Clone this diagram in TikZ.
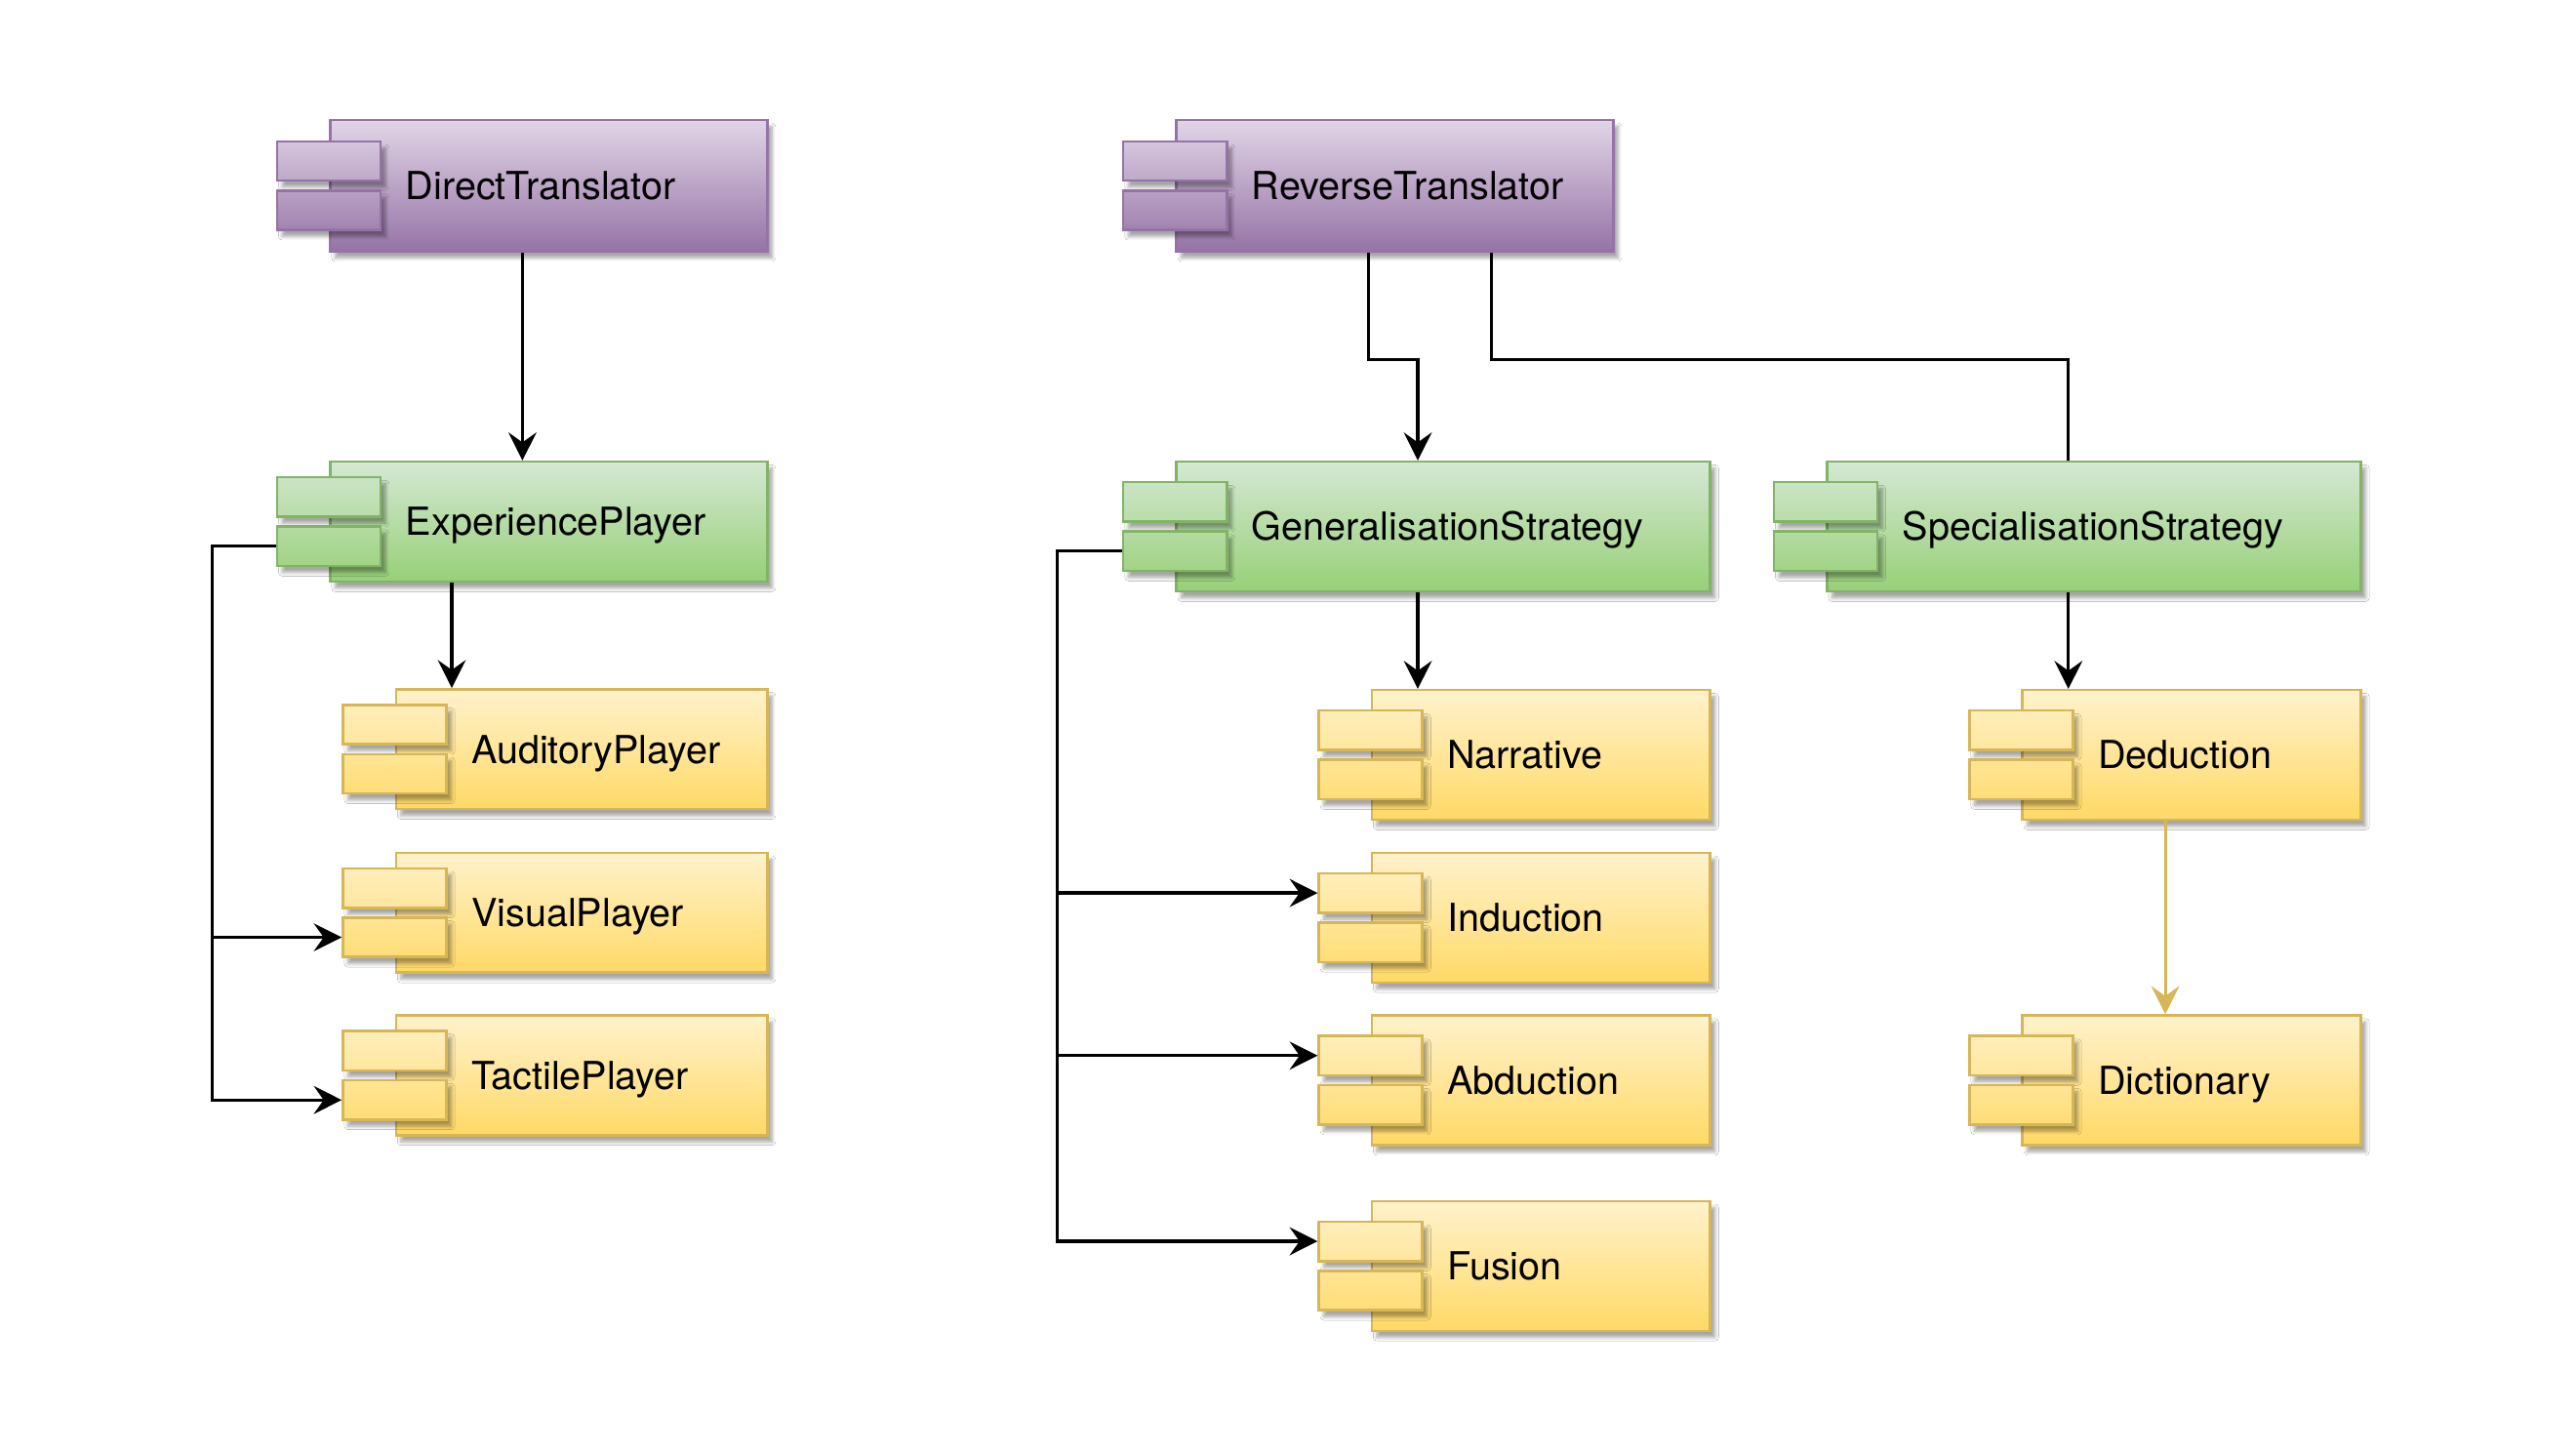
\documentclass[tikz,border=0pt]{standalone}
\usepackage{fontspec}
\setmainfont{TeX Gyre Heros}
\usetikzlibrary{arrows.meta,calc,shadows.blur}
\definecolor{topP}{HTML}{E1D5E7}
\definecolor{botP}{HTML}{9673A6}
\definecolor{lineP}{HTML}{9673A6}
\definecolor{topG}{HTML}{D5E8D4}
\definecolor{botG}{HTML}{97D077}
\definecolor{lineG}{HTML}{82B366}
\definecolor{topY}{HTML}{FFF2CC}
\definecolor{botY}{HTML}{FFD966}
\definecolor{lineY}{HTML}{D6B656}
\begin{document}
\begin{tikzpicture}[x=1pt,y=-1pt,line width=1.9pt,
  font=\fontsize{23.5}{28}\selectfont,
  >={Stealth[length=17pt,width=17pt,inset=6pt]},
  shad/.style={blur shadow={shadow xshift=3pt,shadow yshift=-4pt,shadow blur steps=6,shadow opacity=35}},
  comp/.style={draw,shad,rectangle,line width=1.5pt,align=left,inner xsep=10pt,inner ysep=0pt,text width=246pt,minimum height=80pt,
    text height=17pt,text depth=0pt,execute at begin node=\hspace*{36pt}},
  purp/.style={comp,top color=topP,bottom color=botP,draw=lineP},
  grn/.style={comp,top color=topG,bottom color=botG,draw=lineG},
  yel/.style={comp,top color=topY,bottom color=botY,draw=lineY},
  wide/.style={text width=305pt,minimum height=79pt},
  narrow/.style={text width=186pt,minimum height=79pt},
  player/.style={text width=206pt,minimum height=73pt},
  tab/.style={draw,shad,rectangle,line width=1.5pt,minimum width=63pt,minimum height=24pt,inner sep=0pt}]
\path[use as bounding box,fill=white] (0,0) rectangle (1568,884);
\node[purp] (dt) at (334,113) {DirectTranslator};
\node[purp] (rt) at (849,113) {ReverseTranslator};
\node[grn,minimum height=73pt] (ep) at (334,317.5) {ExperiencePlayer};
\node[grn,wide] (gs) at (878.5,320.5) {GeneralisationStrategy};
\node[grn,wide] (ss) at (1274.5,320.5) {SpecialisationStrategy};
\node[yel,player] (ap) at (354,456) {AuditoryPlayer};
\node[yel,player] (vp) at (354,555.5) {VisualPlayer};
\node[yel,player] (tp) at (354,654.5) {TactilePlayer};
\node[yel,narrow] (narr) at (938,459.5) {Narrative};
\node[yel,narrow] (ind) at (938,558.5) {Induction};
\node[yel,narrow] (abd) at (938,657.5) {Abduction};
\node[yel,narrow] (fus) at (938,770.5) {Fusion};
\node[yel,narrow] (ded) at (1334,459.5) {Deduction};
\node[yel,narrow] (dic) at (1334,657.5) {Dictionary};
\foreach \n/\k in {dt/P,rt/P,ep/G,gs/G,ss/G,ap/Y,vp/Y,tp/Y,narr/Y,ind/Y,abd/Y,fus/Y,ded/Y,dic/Y}{
  \node[tab,draw=line\k,top color=bot\k!16!top\k,bottom color=bot\k!46!top\k] (\n-a) at ($(\n.west)+(0,-15)$) {};
  \node[tab,draw=line\k,top color=bot\k!54!top\k,bottom color=bot\k!84!top\k] (\n-b) at ($(\n.west)+(0,15)$) {};
}
\draw[->] ([xshift=-16pt]dt.south)--([xshift=-16pt]ep.north);
\draw[->] ([xshift=-59pt]ep.south)--([xshift=-59pt]ep.south |- ap.north);
\draw[->] (ep-b.west)--++(-39,0) |- (vp-b.west);
\draw[->] (ep-b.west)--++(-39,0) |- (tp-b.west);
\draw[->] ([xshift=-16pt]rt.south)--++(0,65) -| ([xshift=-15.5pt]gs.north);
\draw ([xshift=59pt]rt.south)--++(0,65) -| ([xshift=-15.5pt]ss.north);
\draw[->] ([xshift=-15.5pt]gs.south)--([xshift=-15.5pt]gs.south |- narr.north);
\draw[->] (gs-b.west)--++(-39.5,0) |- (ind-a.west);
\draw[->] (gs-b.west)--++(-39.5,0) |- (abd-a.west);
\draw[->] (gs-b.west)--++(-39.5,0) |- (fus-a.west);
\draw[->] ([xshift=-15.5pt]ss.south)--([xshift=-15.5pt]ss.south |- ded.north);
\draw[->,lineY] ([xshift=-16pt]ded.south)--([xshift=-16pt]dic.north);
\end{tikzpicture}
\end{document}
